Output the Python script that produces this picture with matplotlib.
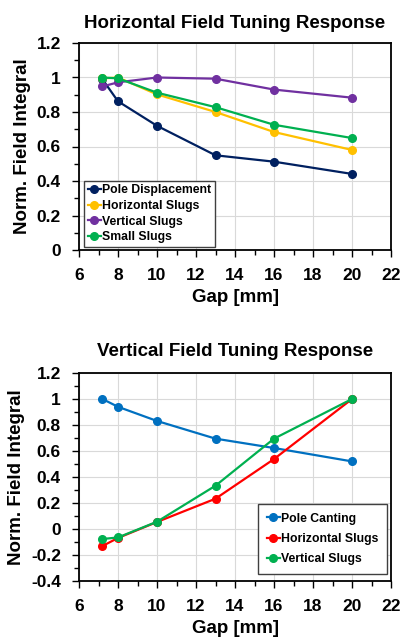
import matplotlib
matplotlib.use("Agg")
import matplotlib.pyplot as plt
from matplotlib.ticker import MultipleLocator

plt.rcParams['font.family'] = ['Liberation Sans', 'DejaVu Sans']
plt.rcParams['font.weight'] = 'bold'

gap = [7.2, 8, 10, 13, 16, 20]

# Horizontal field tuning
h_series = ["Pole Displacement", "Horizontal Slugs", "Vertical Slugs", "Small Slugs"]
h_pole = [0.99, 0.862, 0.72, 0.549, 0.512, 0.441]
h_hslug = [0.995, 1.0, 0.902, 0.80, 0.684, 0.58]
h_vslug = [0.948, 0.972, 1.0, 0.993, 0.93, 0.883]
h_small = [1.0, 0.995, 0.912, 0.828, 0.726, 0.649]
h_colors = ["#002060", "#FFC000", "#7030A0", "#00B050"]

# Vertical field tuning
v_series = ["Pole Canting", "Horizontal Slugs", "Vertical Slugs"]
v_pole = [1.0, 0.94, 0.831, 0.695, 0.623, 0.52]
v_hslug = [-0.131, -0.069, 0.054, 0.233, 0.538, 1.0]
v_vslug = [-0.077, -0.065, 0.056, 0.333, 0.695, 1.0]
v_colors = ["#0070C0", "#FF0000", "#00B050"]

W, H = 401, 640
fig = plt.figure(figsize=(W / 100, H / 100), dpi=100)

def make_ax(left, top, right, bottom):
    return fig.add_axes([left / W, 1 - bottom / H, (right - left) / W, (bottom - top) / H])

ax1 = make_ax(79, 43, 391, 250)
ax2 = make_ax(79, 373, 391, 581)

def style(ax, ymin, ymax, title, tpad):
    ax.set_xlim(6, 22)
    ax.set_ylim(ymin, ymax)
    ax.xaxis.set_major_locator(MultipleLocator(2))
    ax.xaxis.set_minor_locator(MultipleLocator(1))
    ax.yaxis.set_major_locator(MultipleLocator(0.2))
    ax.yaxis.set_minor_locator(MultipleLocator(0.1))
    ax.grid(True, which='major', color='#d9d9d9', linewidth=0.8)
    ax.set_axisbelow(True)
    for s in ax.spines.values():
        s.set_color('black')
        s.set_linewidth(1.3)
    ax.tick_params(which='major', direction='out', length=5, width=1, color='black',
                   labelsize=12.5)
    ax.tick_params(which='minor', direction='out', length=3.5, width=1, color='black')
    ax.tick_params(axis='x', which='major', pad=8)
    ax.tick_params(axis='y', which='major', pad=8)
    ax.yaxis.set_major_formatter(plt.FuncFormatter(lambda v, p: f"{v:g}" if abs(v) > 1e-9 else "0"))
    ax.set_xlabel("Gap [mm]", fontsize=13.5, fontweight='bold', labelpad=4)
    ax.set_ylabel("Norm. Field Integral", fontsize=13.5, fontweight='bold', labelpad=4)
    ax.set_title(title, fontsize=13.5, fontweight='bold', pad=tpad)

for data, name, c in zip([h_pole, h_hslug, h_vslug, h_small], h_series, h_colors):
    ax1.plot(gap, data, '-o', color=c, lw=1.6, ms=5.5, label=name)
style(ax1, 0, 1.2, "Horizontal Field Tuning Response", 11)
leg1 = ax1.legend(loc='lower left', bbox_to_anchor=(0.016, 0.015), fontsize=8.8,
                  handlelength=1.1, handletextpad=0.1, borderpad=0.3, labelspacing=0.3,
                  fancybox=False, framealpha=1, edgecolor='#404040', borderaxespad=0)
leg1.get_frame().set_linewidth(1.0)

for data, name, c in zip([v_pole, v_hslug, v_vslug], v_series, v_colors):
    ax2.plot(gap, data, '-o', color=c, lw=1.6, ms=5.5, label=name)
style(ax2, -0.4, 1.2, "Vertical Field Tuning Response", 12)
leg2 = ax2.legend(loc='lower right', bbox_to_anchor=(0.988, 0.035), fontsize=8.8,
                  handlelength=1.1, handletextpad=0.1, borderpad=0.7, labelspacing=0.68,
                  fancybox=False, framealpha=1, edgecolor='#404040', borderaxespad=0)
leg2.get_frame().set_linewidth(1.0)

fig.savefig("out.png", dpi=100)
